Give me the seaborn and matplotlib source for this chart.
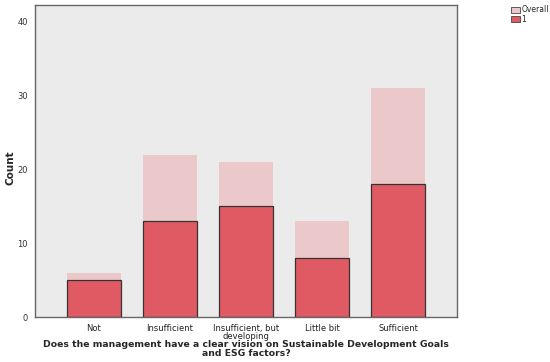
import pandas as pd
import matplotlib
matplotlib.use("Agg")
import matplotlib.pyplot as plt
import seaborn as sns
from matplotlib.patches import Patch

categories = ["Not", "Insufficient", "Insufficient, but\ndeveloping", "Little bit", "Sufficient"]
overall = [6, 22, 21, 13, 31]
group1 = [5, 13, 15, 8, 18]

df = pd.DataFrame({"category": categories, "Overall": overall, "1": group1})

sns.set_style("white")
plt.rcParams["font.family"] = ["DejaVu Sans"]

fig = plt.figure(figsize=(5.5, 3.62), dpi=100)
ax = fig.add_axes([0.0636, 0.1243, 0.7673, 0.8619])
ax.set_facecolor("#EBEBEB")

light = "#EBC9CB"
red = "#E05A63"

sns.barplot(data=df, x="category", y="Overall", color=light, width=0.72,
            saturation=1, edgecolor="none", ax=ax)
sns.barplot(data=df, x="category", y="1", color=red, width=0.72,
            saturation=1, edgecolor="#333333", linewidth=0.9, ax=ax)

ax.set_xlim(-0.776, 4.776)
ax.set_ylim(0, 42.3)
ax.set_yticks([0, 10, 20, 30, 40])
ax.tick_params(axis="y", labelsize=6, length=4, width=0.8, color="#555555", pad=1, labelcolor="#333333")
ax.tick_params(axis="x", labelsize=6, length=4, width=0.8, color="#555555", pad=1, labelcolor="#222222")
for lbl in ax.get_xticklabels():
    lbl.set_linespacing(0.85)

for side in ["left", "bottom", "top", "right"]:
    ax.spines[side].set_visible(True)
    ax.spines[side].set_color("#666666")
    ax.spines[side].set_linewidth(1.0)

ax.set_ylabel("Count", fontsize=7.5, fontweight="bold")
ax.yaxis.set_label_coords(-0.047, 0.48)
ax.set_xlabel("Does the management have a clear vision on Sustainable Development Goals\nand ESG factors?",
              fontsize=6.7, fontweight="bold", linespacing=0.95, va="top")
ax.xaxis.set_label_coords(0.5, -0.075)

handles = [Patch(facecolor=light, edgecolor="#444444", linewidth=0.6, label="Overall"),
           Patch(facecolor=red, edgecolor="#444444", linewidth=0.6, label="1")]
fig.legend(handles=handles, loc="upper left", bbox_to_anchor=(0.92, 1.0), frameon=False,
           fontsize=5.5, handlelength=1.1, handleheight=0.9, handletextpad=0.2,
           labelspacing=0.05, borderaxespad=0.3)

fig.savefig("out.png", dpi=100)
